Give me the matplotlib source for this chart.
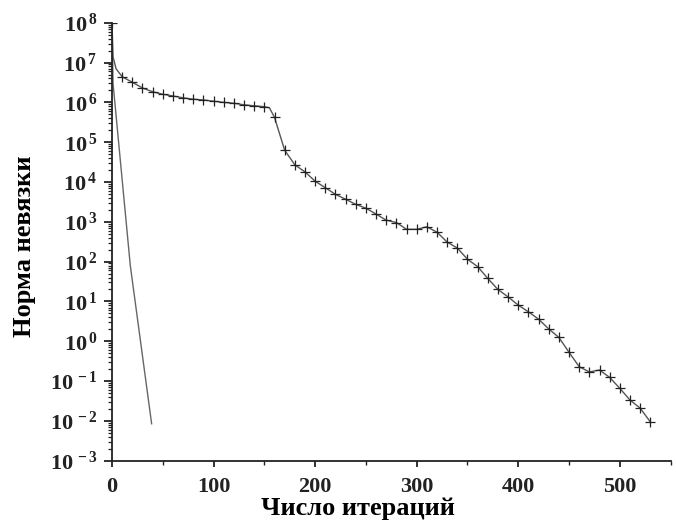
import numpy as np
import matplotlib
matplotlib.use("Agg")
import matplotlib.pyplot as plt
from matplotlib.ticker import LogLocator, MultipleLocator, NullFormatter

plt.rcParams['font.family'] = ['Liberation Serif', 'DejaVu Serif']
plt.rcParams['font.weight'] = 'bold'
plt.rcParams['mathtext.fontset'] = 'custom'
plt.rcParams['mathtext.rm'] = 'Liberation Serif:bold'
plt.rcParams['mathtext.bf'] = 'Liberation Serif:bold'
plt.rcParams['mathtext.it'] = 'Liberation Serif:bold'

# Curve with markers (residual norm vs iteration)
iters_a = [0, 1, 4, 10, 20, 30, 40, 50, 60, 70, 80, 90, 100, 110, 120, 130, 140,
           150, 155, 160, 170, 180, 190, 200, 210, 220, 230, 240, 250, 260, 270,
           280, 290, 300, 310, 320, 330, 340, 350, 360, 370, 380, 390, 400, 410,
           420, 430, 440, 450, 460, 470, 480, 490, 500, 510, 520, 530]
resid_a = [1e8, 1.4e7, 7.0e6, 4.4e6, 3.2e6, 2.3e6, 1.85e6, 1.6e6, 1.45e6, 1.3e6,
           1.2e6, 1.15e6, 1.07e6, 1.0e6, 9.5e5, 8.7e5, 8.2e5, 7.8e5, 7.3e5, 4.2e5,
           6.3e4, 2.7e4, 1.8e4, 1.05e4, 7.2e3, 4.9e3, 3.7e3, 2.75e3, 2.2e3, 1.57e3,
           1.1e3, 9.6e2, 6.5e2, 6.5e2, 7.5e2, 5.5e2, 3.1e2, 2.2e2, 1.15e2, 75, 38,
           20, 13, 8.1, 5.5, 3.6, 2.05, 1.25, 0.53, 0.23, 0.17, 0.19, 0.124, 0.066,
           0.0335, 0.021, 0.0095]

# Fast-converging curve (no markers)
iters_b = [0, 1, 18, 39]
resid_b = [1e8, 3e6, 80, 8.5e-3]

yexps = list(range(-3, 9))
xticks = [0, 100, 200, 300, 400, 500]

fig = plt.figure(figsize=(6.76, 5.29), dpi=100)
ax = fig.add_axes([0.1657, 0.129, 0.8263, 0.828])

marks = [i for i, x in enumerate(iters_a) if x % 10 == 0]
ax.plot(iters_a, resid_a, color='#555555', lw=1.0, marker='+', markersize=7,
        markeredgewidth=0.9, markeredgecolor='#222222', markevery=marks)
ax.plot(iters_b, resid_b, color='#666666', lw=1.0)

ax.set_yscale('log')
ax.set_xlim(0, 550)
ax.set_ylim(1e-3, 1e8)

ax.set_yticks([10.0 ** e for e in yexps])
ax.set_yticklabels([r'$\mathbf{10^{\,%d}}$' % e for e in yexps])
ax.yaxis.set_minor_locator(LogLocator(base=10, subs=np.arange(2, 10), numticks=50))
ax.yaxis.set_minor_formatter(NullFormatter())

ax.set_xticks(xticks)
ax.set_xticklabels([str(t) for t in xticks])
ax.xaxis.set_minor_locator(MultipleLocator(50))

for s in ['top', 'right']:
    ax.spines[s].set_visible(False)
for s in ['left', 'bottom']:
    ax.spines[s].set_linewidth(1.3)
    ax.spines[s].set_color('#222222')

ax.tick_params(axis='y', which='major', direction='out', length=5.5, width=1.3,
               labelsize=16, colors='#222222', pad=5)
ax.tick_params(axis='y', which='minor', direction='out', length=3, width=0.9,
               colors='#222222')
ax.tick_params(axis='x', which='major', direction='out', length=4.5, width=1.3,
               labelsize=16, colors='#222222', pad=7)
ax.tick_params(axis='x', which='minor', direction='out', length=3, width=1.0,
               colors='#222222')

ax.set_xlabel('Число итераций', fontsize=19, fontweight='bold')
ax.set_ylabel('Норма невязки', fontsize=19, fontweight='bold')
ax.xaxis.set_label_coords(0.44, -0.083)
ax.yaxis.set_label_coords(-0.136, 0.49)

fig.savefig('out.png', dpi=100)
